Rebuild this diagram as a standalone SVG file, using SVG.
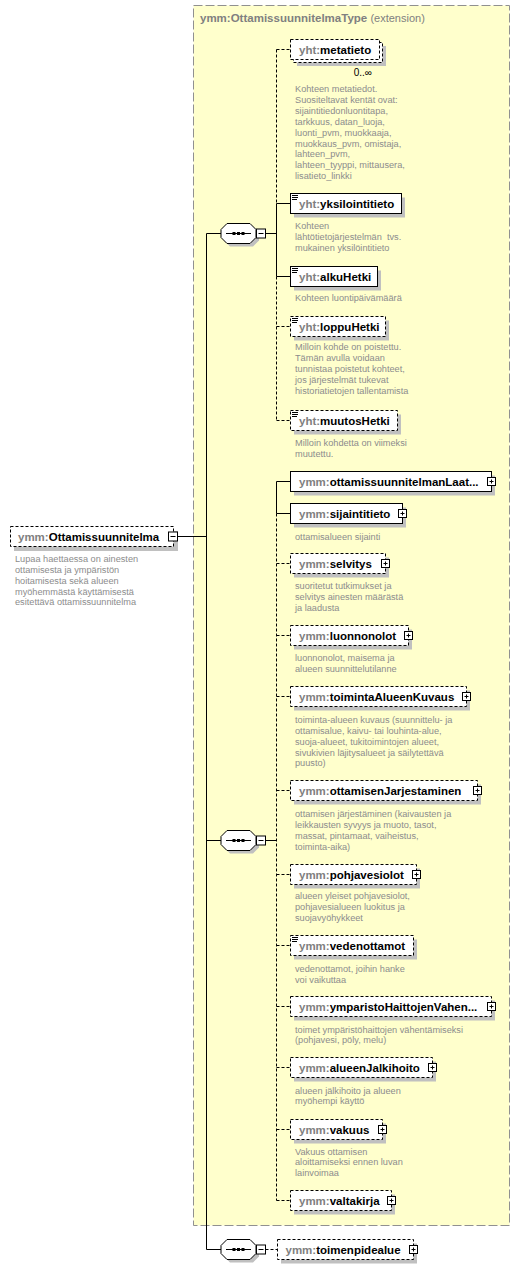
<svg xmlns="http://www.w3.org/2000/svg" width="520" height="1269" viewBox="0 0 520 1269">
<style>
.bg{fill:#ffffcc;stroke:#909090;stroke-width:1;stroke-dasharray:9,3}
.box{fill:#fff;stroke:#000;stroke-width:1}
.opt{stroke-dasharray:3,2}
.sh{fill:#c0c0c0}
.ln{fill:none;stroke:#000;stroke-width:1}
.dl{stroke-dasharray:3,2}
.lbl{font-family:"Liberation Sans",Arial,sans-serif;font-size:11.5px;font-weight:bold;fill:#000}
.pfx{fill:#808080}
.ttl{font-family:"Liberation Sans",Arial,sans-serif;font-size:11.5px;font-weight:bold;fill:#808080}
.ext{font-weight:normal;font-size:11px}
.desc{font-family:"Liberation Sans",Arial,sans-serif;font-size:9.2px;fill:#8c8c8c}
.occ{font-family:"Liberation Sans",Arial,sans-serif;font-size:10px;fill:#000}
</style>
<defs>
<g id="plus"><rect x="0" y="0" width="8" height="8" fill="#fff" stroke="#000"/><path d="M2 4h4M4 2v4" stroke="#000" fill="none"/></g>
<g id="minus"><rect x="0" y="0" width="9" height="9" fill="#fff" stroke="#000"/><path d="M2 4.5h5" stroke="#000" fill="none"/></g>
<g id="ico"><path d="M0 0.5h6M0 2.5h6M0 4.5h5" stroke="#000" fill="none"/></g>
<g id="seq">
<polygon points="9,3 32,3 38,9 38,17 32,23 9,23 3,17 3,9" fill="#c0c0c0"/>
<polygon points="6,0 29,0 35,6 35,14 29,20 6,20 0,14 0,6" fill="#fff" stroke="#000"/>
<path d="M5 10H30" stroke="#000" fill="none"/>
<rect x="11.5" y="8.5" width="3" height="3" fill="#000"/>
<rect x="16" y="8.5" width="3" height="3" fill="#000"/>
<rect x="20.5" y="8.5" width="3" height="3" fill="#000"/>
</g>
</defs>

<g id="type-box">
<rect class="bg" x="193.5" y="5.5" width="316" height="1220"/>
<text class="ttl" x="200" y="22">ymm:OttamissuunnitelmaType <tspan class="ext">(extension)</tspan></text>
</g>

<g id="connectors">
<path class="ln" d="M177.5 536.5H206.5M206.5 233.5V1249.5M206.5 233.5H221M206.5 840.5H221M206.5 1249.5H221"/>
<path class="ln" d="M265.5 233.5H276.5M276.5 203.5V276.5M276.5 203.5H290.5M276.5 276.5H290.5"/>
<path class="ln dl" d="M276.5 49.5V203.5M276.5 276.5V420.5M276.5 49.5H290.5M276.5 326.5H290.5M276.5 420.5H290.5"/>
<path class="ln" d="M265.5 840.5H276.5M276.5 481.5V513.5M276.5 481.5H290.5M276.5 513.5H290.5"/>
<path class="ln dl" d="M276.5 513.5V1200.5M276.5 563.5H290.5M276.5 635.5H290.5M276.5 696.5H290.5M276.5 790.5H290.5M276.5 874.5H290.5M276.5 945.5H290.5M276.5 1006.5H290.5M276.5 1067.5H290.5M276.5 1129.5H290.5M276.5 1200.5H290.5"/>
<path class="ln dl" d="M265.5 1249.5H277.5"/>
</g>

<g id="Ottamissuunnitelma">
<rect class="sh" x="14" y="531" width="164" height="20"/>
<rect class="box opt" x="10.5" y="526.5" width="163" height="20"/>
<text class="lbl" x="18" y="541"><tspan class="pfx">ymm:</tspan>Ottamissuunnitelma</text>
<use href="#minus" x="168.5" y="532"/>
<text class="desc" x="15" y="561.8">Lupaa haettaessa on ainesten<tspan x="15" dy="10.9">ottamisesta ja ympäristön</tspan><tspan x="15" dy="10.9">hoitamisesta sekä alueen</tspan><tspan x="15" dy="10.9">myöhemmästä käyttämisestä</tspan><tspan x="15" dy="10.9">esitettävä ottamissuunnitelma</tspan></text>
</g>

<g id="seq1"><use href="#seq" x="221" y="223.5"/><use href="#minus" x="256.5" y="229"/></g>
<g id="seq2"><use href="#seq" x="221" y="830.5"/><use href="#minus" x="256.5" y="836"/></g>
<g id="seq3"><use href="#seq" x="221" y="1239.5"/><use href="#minus" x="256.5" y="1245"/></g>

<g id="metatieto">
<rect class="sh" x="297" y="46" width="89" height="20"/>
<rect class="box opt" x="293.5" y="42.5" width="89" height="20"/>
<rect class="box opt" x="290.5" y="39.5" width="89" height="20"/>
<text class="lbl" x="299" y="53.5"><tspan class="pfx">yht:</tspan>metatieto</text>
<text class="occ" x="372" y="76" text-anchor="end">0..∞</text>
<text class="desc" x="295" y="92">Kohteen metatiedot.<tspan x="295" dy="10.9">Suositeltavat kentät ovat:</tspan><tspan x="295" dy="10.9">sijaintitiedonluontitapa,</tspan><tspan x="295" dy="10.9">tarkkuus, datan_luoja,</tspan><tspan x="295" dy="10.9">luonti_pvm, muokkaaja,</tspan><tspan x="295" dy="10.9">muokkaus_pvm, omistaja,</tspan><tspan x="295" dy="10.9">lahteen_pvm,</tspan><tspan x="295" dy="10.9">lahteen_tyyppi, mittausera,</tspan><tspan x="295" dy="10.9">lisatieto_linkki</tspan></text>
</g>

<g id="yksilointitieto">
<rect class="sh" x="294" y="197.5" width="111" height="20"/>
<rect class="box" x="290.5" y="193.5" width="111" height="20"/>
<use href="#ico" x="292" y="195"/>
<text class="lbl" x="299" y="207.5"><tspan class="pfx">yht:</tspan>yksilointitieto</text>
<text class="desc" x="295" y="229.2" xml:space="preserve">Kohteen<tspan x="295" dy="10.9">lähtötietojärjestelmän  tvs.</tspan><tspan x="295" dy="10.9">mukainen yksilöintitieto</tspan></text>
</g>

<g id="alkuHetki">
<rect class="sh" x="294" y="270.5" width="87" height="20"/>
<rect class="box" x="290.5" y="266.5" width="87" height="20"/>
<use href="#ico" x="292" y="268"/>
<text class="lbl" x="299" y="280.5"><tspan class="pfx">yht:</tspan>alkuHetki</text>
<text class="desc" x="295" y="301.2">Kohteen luontipäivämäärä</text>
</g>

<g id="loppuHetki">
<rect class="sh" x="294" y="320.5" width="95" height="20"/>
<rect class="box opt" x="290.5" y="316.5" width="95" height="20"/>
<use href="#ico" x="292" y="318"/>
<text class="lbl" x="299" y="330.5"><tspan class="pfx">yht:</tspan>loppuHetki</text>
<text class="desc" x="295" y="350.2">Milloin kohde on poistettu.<tspan x="295" dy="10.9">Tämän avulla voidaan</tspan><tspan x="295" dy="10.9">tunnistaa poistetut kohteet,</tspan><tspan x="295" dy="10.9">jos järjestelmät tukevat</tspan><tspan x="295" dy="10.9">historiatietojen tallentamista</tspan></text>
</g>

<g id="muutosHetki">
<rect class="sh" x="294" y="414.5" width="107" height="20"/>
<rect class="box opt" x="290.5" y="410.5" width="107" height="20"/>
<use href="#ico" x="292" y="412"/>
<text class="lbl" x="299" y="424.5"><tspan class="pfx">yht:</tspan>muutosHetki</text>
<text class="desc" x="295" y="445.8">Milloin kohdetta on viimeksi<tspan x="295" dy="10.9">muutettu.</tspan></text>
</g>

<g id="ottamissuunnitelmanLaatu">
<rect class="sh" x="294" y="475.5" width="201" height="20"/>
<rect class="box" x="290.5" y="471.5" width="201" height="20"/>
<text class="lbl" x="299" y="485.5"><tspan class="pfx">ymm:</tspan>ottamissuunnitelmanLaat...</text>
<use href="#plus" x="487.5" y="477.5"/>
</g>

<g id="sijaintitieto">
<rect class="sh" x="294" y="507.5" width="112" height="20"/>
<rect class="box" x="290.5" y="503.5" width="112" height="20"/>
<text class="lbl" x="299" y="517.5"><tspan class="pfx">ymm:</tspan>sijaintitieto</text>
<use href="#plus" x="398.5" y="509.5"/>
<text class="desc" x="295" y="540.2">ottamisalueen sijainti</text>
</g>

<g id="selvitys">
<rect class="sh" x="294" y="557.5" width="95" height="20"/>
<rect class="box opt" x="290.5" y="553.5" width="95" height="20"/>
<text class="lbl" x="299" y="567.5"><tspan class="pfx">ymm:</tspan>selvitys</text>
<use href="#plus" x="381.5" y="559.5"/>
<text class="desc" x="295" y="589.2">suoritetut tutkimukset ja<tspan x="295" dy="10.9">selvitys ainesten määrästä</tspan><tspan x="295" dy="10.9">ja laadusta</tspan></text>
</g>

<g id="luonnonolot">
<rect class="sh" x="294" y="629.5" width="118" height="20"/>
<rect class="box opt" x="290.5" y="625.5" width="118" height="20"/>
<text class="lbl" x="299" y="639.5"><tspan class="pfx">ymm:</tspan>luonnonolot</text>
<use href="#plus" x="404.5" y="631.5"/>
<text class="desc" x="295" y="660.8">luonnonolot, maisema ja<tspan x="295" dy="10.9">alueen suunnittelutilanne</tspan></text>
</g>

<g id="toimintaAlueenKuvaus">
<rect class="sh" x="294" y="690.5" width="176" height="20"/>
<rect class="box opt" x="290.5" y="686.5" width="176" height="20"/>
<text class="lbl" x="299" y="700.5"><tspan class="pfx">ymm:</tspan>toimintaAlueenKuvaus</text>
<use href="#plus" x="462.5" y="692.5"/>
<text class="desc" x="295" y="722.8">toiminta-alueen kuvaus (suunnittelu- ja<tspan x="295" dy="10.9">ottamisalue, kaivu- tai louhinta-alue,</tspan><tspan x="295" dy="10.9">suoja-alueet, tukitoimintojen alueet,</tspan><tspan x="295" dy="10.9">sivukivien läjitysalueet ja säilytettävä</tspan><tspan x="295" dy="10.9">puusto)</tspan></text>
</g>

<g id="ottamisenJarjestaminen">
<rect class="sh" x="294" y="784.5" width="187" height="20"/>
<rect class="box opt" x="290.5" y="780.5" width="187" height="20"/>
<text class="lbl" x="299" y="794.5"><tspan class="pfx">ymm:</tspan>ottamisenJarjestaminen</text>
<use href="#plus" x="473.5" y="786.5"/>
<text class="desc" x="295" y="816.8">ottamisen järjestäminen (kaivausten ja<tspan x="295" dy="10.9">leikkausten syvyys ja muoto, tasot,</tspan><tspan x="295" dy="10.9">massat, pintamaat, vaiheistus,</tspan><tspan x="295" dy="10.9">toiminta-aika)</tspan></text>
</g>

<g id="pohjavesiolot">
<rect class="sh" x="294" y="868.5" width="126" height="20"/>
<rect class="box opt" x="290.5" y="864.5" width="126" height="20"/>
<text class="lbl" x="299" y="878.5"><tspan class="pfx">ymm:</tspan>pohjavesiolot</text>
<use href="#plus" x="412.5" y="870.5"/>
<text class="desc" x="295" y="899.2">alueen yleiset pohjavesiolot,<tspan x="295" dy="10.9">pohjavesialueen luokitus ja</tspan><tspan x="295" dy="10.9">suojavyöhykkeet</tspan></text>
</g>

<g id="vedenottamot">
<rect class="sh" x="294" y="939.5" width="123" height="20"/>
<rect class="box opt" x="290.5" y="935.5" width="123" height="20"/>
<use href="#ico" x="292" y="937"/>
<text class="lbl" x="299" y="949.5"><tspan class="pfx">ymm:</tspan>vedenottamot</text>
<text class="desc" x="295" y="971.8">vedenottamot, joihin hanke<tspan x="295" dy="10.9">voi vaikuttaa</tspan></text>
</g>

<g id="ymparistoHaittojenVahentaminen">
<rect class="sh" x="294" y="1000.5" width="201" height="20"/>
<rect class="box opt" x="290.5" y="996.5" width="201" height="20"/>
<text class="lbl" x="299" y="1010.5"><tspan class="pfx">ymm:</tspan>ymparistoHaittojenVahen...</text>
<use href="#plus" x="487.5" y="1002.5"/>
<text class="desc" x="295" y="1032.5">toimet ympäristöhaittojen vähentämiseksi<tspan x="295" dy="10.9">(pohjavesi, pöly, melu)</tspan></text>
</g>

<g id="alueenJalkihoito">
<rect class="sh" x="294" y="1061.5" width="142" height="20"/>
<rect class="box opt" x="290.5" y="1057.5" width="142" height="20"/>
<text class="lbl" x="299" y="1071.5"><tspan class="pfx">ymm:</tspan>alueenJalkihoito</text>
<use href="#plus" x="428.5" y="1063.5"/>
<text class="desc" x="295" y="1093.5">alueen jälkihoito ja alueen<tspan x="295" dy="10.9">myöhempi käyttö</tspan></text>
</g>

<g id="vakuus">
<rect class="sh" x="294" y="1123.5" width="92" height="20"/>
<rect class="box opt" x="290.5" y="1119.5" width="92" height="20"/>
<text class="lbl" x="299" y="1133.5"><tspan class="pfx">ymm:</tspan>vakuus</text>
<use href="#plus" x="378.5" y="1125.5"/>
<text class="desc" x="295" y="1154.5">Vakuus ottamisen<tspan x="295" dy="10.9">aloittamiseksi ennen luvan</tspan><tspan x="295" dy="10.9">lainvoimaa</tspan></text>
</g>

<g id="valtakirja">
<rect class="sh" x="294" y="1194.5" width="101" height="20"/>
<rect class="box opt" x="290.5" y="1190.5" width="101" height="20"/>
<text class="lbl" x="299" y="1204.5"><tspan class="pfx">ymm:</tspan>valtakirja</text>
<use href="#plus" x="387.5" y="1196.5"/>
</g>

<g id="toimenpidealue">
<rect class="sh" x="281" y="1243.5" width="136" height="20"/>
<rect class="box opt" x="277.5" y="1239.5" width="136" height="20"/>
<text class="lbl" x="285.5" y="1253.5"><tspan class="pfx">ymm:</tspan>toimenpidealue</text>
<use href="#plus" x="409.5" y="1245.5"/>
</g>
</svg>
